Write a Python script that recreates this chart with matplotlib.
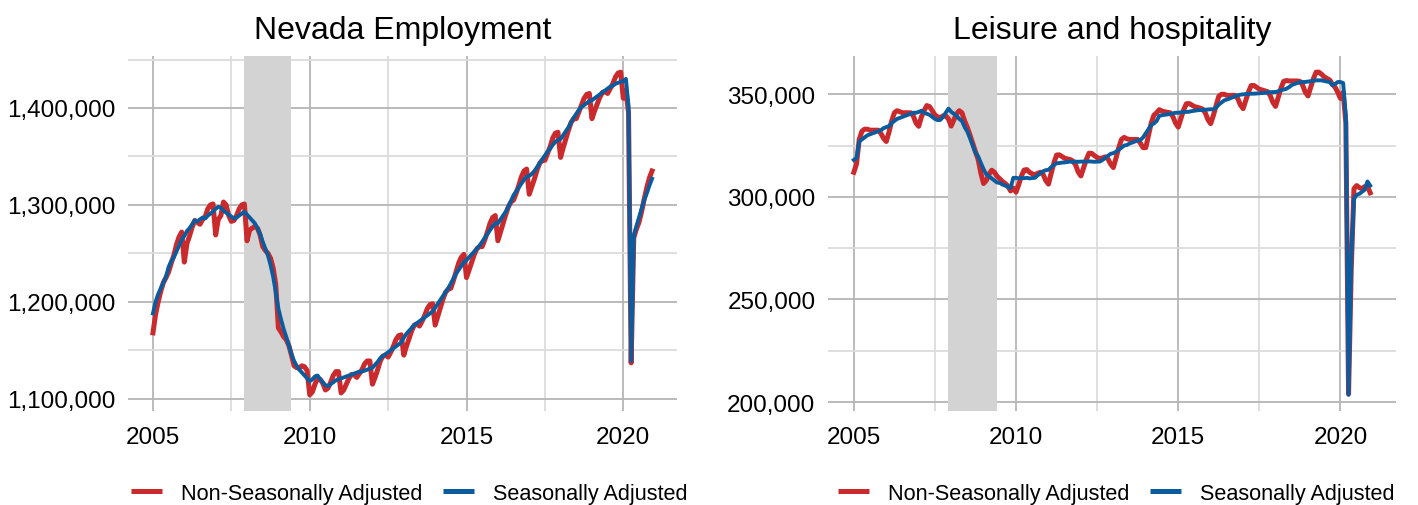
import numpy as np
import matplotlib
matplotlib.use("Agg")
import matplotlib.pyplot as plt
from matplotlib.ticker import FuncFormatter, MultipleLocator, FixedLocator

plt.rcParams['font.family'] = ['Liberation Sans', 'DejaVu Sans']

# ---------------- data (thousands of jobs), monthly Jan 2005 - Dec 2020 ----------------
start_year = 2005
n_months = 192

nv_total_sa = [
    1188, 1200, 1208, 1214, 1220, 1226, 1236, 1242, 1246, 1252, 1258, 1264,  # 2005
    1268, 1273, 1276, 1280, 1284, 1283, 1285, 1287, 1286, 1289, 1291, 1293,  # 2006
    1296, 1298, 1297, 1294, 1292, 1290, 1288, 1286, 1287, 1289, 1291, 1293,  # 2007
    1290, 1287, 1284, 1281, 1276, 1270, 1262, 1255, 1248, 1238, 1226, 1210,  # 2008
    1193, 1182, 1172, 1164, 1155, 1146, 1139, 1134, 1130, 1127, 1124, 1121,  # 2009
    1118, 1120, 1123, 1124, 1120, 1117, 1114, 1113, 1115, 1117, 1119, 1120,  # 2010
    1121, 1122, 1123, 1124, 1125, 1126, 1127, 1128, 1128, 1129, 1130, 1131,  # 2011
    1132, 1135, 1138, 1142, 1144, 1146, 1148, 1150, 1152, 1154, 1156, 1158,  # 2012
    1163, 1167, 1170, 1173, 1176, 1178, 1180, 1182, 1184, 1186, 1188, 1190,  # 2013
    1194, 1198, 1202, 1206, 1210, 1214, 1219, 1224, 1229, 1233, 1237, 1241,  # 2014
    1243, 1246, 1249, 1252, 1255, 1258, 1262, 1266, 1270, 1274, 1278, 1281,  # 2015
    1281, 1285, 1289, 1293, 1298, 1304, 1310, 1314, 1318, 1322, 1326, 1329,  # 2016
    1330, 1332, 1335, 1339, 1343, 1347, 1351, 1355, 1358, 1362, 1365, 1367,  # 2017
    1368, 1372, 1376, 1380, 1385, 1390, 1394, 1398, 1401, 1403, 1405, 1407,  # 2018
    1408, 1410, 1412, 1414, 1416, 1418, 1420, 1422, 1423, 1425, 1426, 1427,  # 2019
    1428, 1430, 1402, 1139, 1268, 1278, 1287, 1296, 1305, 1312, 1320, 1327,  # 2020
]

nv_total_nsa = [
    1168, 1187, 1200, 1211, 1220, 1225, 1231, 1240, 1248, 1259, 1267, 1272,  # 2005
    1241, 1260, 1268, 1277, 1284, 1282, 1280, 1285, 1288, 1296, 1300, 1301,  # 2006
    1269, 1285, 1289, 1303, 1300, 1289, 1283, 1284, 1289, 1296, 1300, 1301,  # 2007
    1263, 1274, 1276, 1278, 1276, 1269, 1257, 1253, 1250, 1245, 1235, 1218,  # 2008
    1173, 1169, 1164, 1161, 1155, 1145, 1134, 1132, 1132, 1134, 1133, 1129,  # 2009
    1104, 1107, 1115, 1121, 1120, 1116, 1109, 1111, 1117, 1124, 1128, 1128,  # 2010
    1106, 1109, 1115, 1121, 1125, 1125, 1122, 1126, 1130, 1136, 1139, 1139,  # 2011
    1115, 1122, 1130, 1139, 1144, 1145, 1143, 1148, 1154, 1161, 1165, 1166,  # 2012
    1145, 1154, 1162, 1170, 1176, 1177, 1175, 1180, 1186, 1193, 1197, 1198,  # 2013
    1176, 1185, 1194, 1203, 1210, 1213, 1214, 1222, 1231, 1240, 1246, 1249,  # 2014
    1225, 1233, 1241, 1249, 1255, 1257, 1257, 1264, 1272, 1281, 1287, 1289,  # 2015
    1263, 1272, 1281, 1290, 1298, 1303, 1305, 1312, 1320, 1329, 1335, 1337,  # 2016
    1311, 1319, 1327, 1336, 1343, 1346, 1346, 1353, 1360, 1369, 1374, 1375,  # 2017
    1349, 1359, 1368, 1377, 1385, 1389, 1389, 1396, 1403, 1410, 1414, 1415,  # 2018
    1389, 1397, 1404, 1411, 1416, 1417, 1415, 1420, 1425, 1432, 1436, 1437,  # 2019
    1410, 1418, 1395, 1137, 1266, 1275, 1282, 1293, 1306, 1318, 1328, 1335,  # 2020
]

lh_sa = [
    318.0, 319.0, 327.0, 328.0, 329.0, 330.0, 330.5, 331.0, 331.5, 332.0, 332.5, 333.5,  # 2005
    334.0, 334.5, 336.0, 337.0, 338.0, 338.5, 339.0, 339.5, 340.0, 340.5, 341.0, 341.0,  # 2006
    341.4, 342.0, 341.0, 340.5, 340.0, 339.0, 338.0, 337.4, 337.5, 339.0, 341.0, 343.0,  # 2007
    341.5, 340.5, 339.5, 338.0, 337.0, 334.0, 331.8, 328.5, 325.0, 321.5, 319.7, 316.5,  # 2008
    313.5, 311.0, 310.0, 309.0, 308.0, 307.0, 306.8, 306.0, 305.5, 304.8, 304.4, 309.3,  # 2009
    309.3, 309.0, 309.2, 309.1, 309.3, 309.0, 309.2, 309.3, 310.5, 311.5, 312.5, 313.0,  # 2010
    313.2, 314.5, 315.5, 316.4, 316.5, 316.7, 316.8, 317.0, 317.2, 317.0, 317.2, 317.1,  # 2011
    317.2, 317.2, 317.2, 317.3, 317.2, 317.1, 317.2, 317.2, 318.0, 319.0, 320.0, 321.0,  # 2012
    321.3, 322.0, 323.0, 324.0, 325.0, 325.3, 326.0, 326.5, 327.0, 327.5, 327.7, 329.0,  # 2013
    331.0, 333.0, 335.0, 335.8, 337.0, 339.5, 339.8, 340.0, 340.2, 340.5, 340.7, 341.0,  # 2014
    341.0, 341.2, 341.4, 341.4, 341.5, 341.8, 342.0, 342.2, 342.3, 342.3, 342.5, 342.6,  # 2015
    342.7, 342.7, 343.5, 345.0, 346.0, 347.0, 347.5, 347.9, 348.5, 349.0, 349.5, 349.8,  # 2016
    350.0, 350.1, 350.2, 350.3, 350.3, 350.4, 350.5, 350.6, 350.7, 350.8, 351.0, 351.1,  # 2017
    351.1, 351.5, 352.0, 352.3, 352.7, 353.5, 354.5, 355.0, 355.5, 355.8, 356.0, 356.0,  # 2018
    356.2, 356.4, 356.6, 356.8, 356.8, 356.8, 356.5, 356.2, 356.0, 354.4, 355.0, 356.0,  # 2019
    356.0, 355.5, 339.0, 203.5, 270.0, 299.0, 301.0, 301.5, 302.5, 303.5, 307.5, 305.5,  # 2020
]

lh_nsa = [
    312.0, 316.0, 328.0, 332.0, 333.0, 333.0, 332.5, 332.5, 332.5, 332.5, 331.0, 328.5,  # 2005
    327.0, 331.5, 337.0, 341.0, 342.0, 341.5, 341.0, 341.0, 341.0, 341.0, 339.5, 336.0,  # 2006
    334.4, 339.0, 342.0, 344.5, 344.0, 342.0, 340.0, 339.0, 338.5, 339.5, 339.5, 338.0,  # 2007
    334.5, 337.5, 340.5, 342.0, 341.0, 337.0, 333.8, 330.0, 326.0, 322.0, 318.2, 311.5,  # 2008
    306.5, 308.0, 311.0, 313.0, 312.0, 310.0, 308.8, 307.5, 306.5, 305.3, 302.9, 304.3,  # 2009
    302.3, 306.0, 310.2, 313.1, 313.3, 312.0, 311.2, 310.8, 311.5, 312.0, 311.0, 308.0,  # 2010
    306.2, 311.5, 316.5, 320.4, 320.5, 319.7, 318.8, 318.5, 318.2, 317.5, 315.7, 312.1,  # 2011
    310.2, 314.2, 318.2, 321.3, 321.2, 320.1, 319.2, 318.7, 319.0, 319.5, 318.5, 316.0,  # 2012
    314.3, 319.0, 324.0, 328.0, 329.0, 328.3, 328.0, 328.0, 328.0, 328.0, 326.2, 324.0,  # 2013
    324.0, 330.0, 336.0, 339.8, 341.0, 342.5, 341.8, 341.5, 341.2, 341.0, 339.2, 336.0,  # 2014
    334.0, 338.2, 342.4, 345.4, 345.5, 344.8, 344.0, 343.7, 343.3, 342.8, 341.0, 337.6,  # 2015
    335.7, 339.7, 344.5, 349.0, 350.0, 350.0, 349.5, 349.4, 349.5, 349.5, 348.0, 344.8,  # 2016
    343.0, 347.1, 351.2, 354.3, 354.3, 353.4, 352.5, 352.1, 351.7, 351.3, 349.5, 346.1,  # 2017
    344.1, 348.5, 353.0, 356.3, 356.7, 356.5, 356.5, 356.5, 356.5, 356.3, 354.5, 351.0,  # 2018
    349.2, 353.4, 357.6, 360.8, 360.8, 359.8, 358.5, 357.7, 357.0, 354.9, 353.5, 351.0,  # 2019
    348.0, 351.0, 336.0, 204.0, 265.0, 304.0, 305.5, 304.5, 304.0, 305.0, 305.0, 302.0,  # 2020
]

recession_start = 2007 + 11 / 12   # Dec 2007
recession_end = 2009 + 5 / 12      # Jun 2009

titles = ["Nevada Employment", "Leisure and hospitality"]
series_labels = ["Non-Seasonally Adjusted", "Seasonally Adjusted"]
x_ticks = [2005, 2010, 2015, 2020]

# ---------------- plotting ----------------
RED = "#CB2A2C"
BLUE = "#0B5C9E"
MAJ = "#B5B5B5"
MIN = "#DCDCDC"

t = start_year + np.arange(n_months) / 12.0

fig = plt.figure(figsize=(14.18, 5.06), dpi=100)
ax1 = fig.add_axes([128 / 1418, 1 - 412 / 506, 549 / 1418, 355 / 506])
ax2 = fig.add_axes([828 / 1418, 1 - 412 / 506, 568 / 1418, 355 / 506])

panels = [
    (ax1, np.array(nv_total_nsa) * 1000, np.array(nv_total_sa) * 1000, 100000, 50000, 0.512),
    (ax2, np.array(lh_nsa) * 1000, np.array(lh_sa) * 1000, 50000, 25000, 0.507),
]

for (ax, nsa, sa, ymaj, ymin, legx), title in zip(panels, titles):
    ax.set_facecolor("white")
    for s in ax.spines.values():
        s.set_visible(False)
    ax.axvspan(recession_start, recession_end, color="#D3D3D3", zorder=1, lw=0)
    ax.plot(t, nsa, color=RED, lw=3.6, label=series_labels[0], zorder=3,
            solid_joinstyle="round")
    ax.plot(t, sa, color=BLUE, lw=2.8, label=series_labels[1], zorder=4,
            solid_joinstyle="round")
    ax.margins(x=0.05, y=0.05)
    ax.xaxis.set_major_locator(FixedLocator(x_ticks))
    ax.xaxis.set_minor_locator(FixedLocator([2007.5, 2012.5, 2017.5]))
    ax.yaxis.set_major_locator(MultipleLocator(ymaj))
    ax.yaxis.set_minor_locator(MultipleLocator(ymin))
    ax.yaxis.set_major_formatter(FuncFormatter(lambda v, p: f"{int(round(v)):,}"))
    ax.xaxis.set_major_formatter(FuncFormatter(lambda v, p: f"{int(round(v))}"))
    ax.grid(which="major", color=MAJ, lw=1.3, zorder=0)
    ax.grid(which="minor", color=MIN, lw=1.3, zorder=0)
    ax.set_axisbelow(True)
    ax.tick_params(which="both", length=0, labelsize=17.5, colors="black")
    ax.tick_params(axis="y", pad=9)
    ax.tick_params(axis="x", pad=11)
    ax.set_title(title, fontsize=23, pad=13)
    leg = ax.legend(loc="center", bbox_to_anchor=(legx, -0.231), ncol=2, frameon=False,
                    fontsize=15.6, handlelength=1.45, handletextpad=0.85,
                    columnspacing=0.95)
    for line in leg.get_lines():
        line.set_linewidth(3.6)
        line.set_solid_capstyle("butt")

fig.savefig("out.png", dpi=100, facecolor="white")
